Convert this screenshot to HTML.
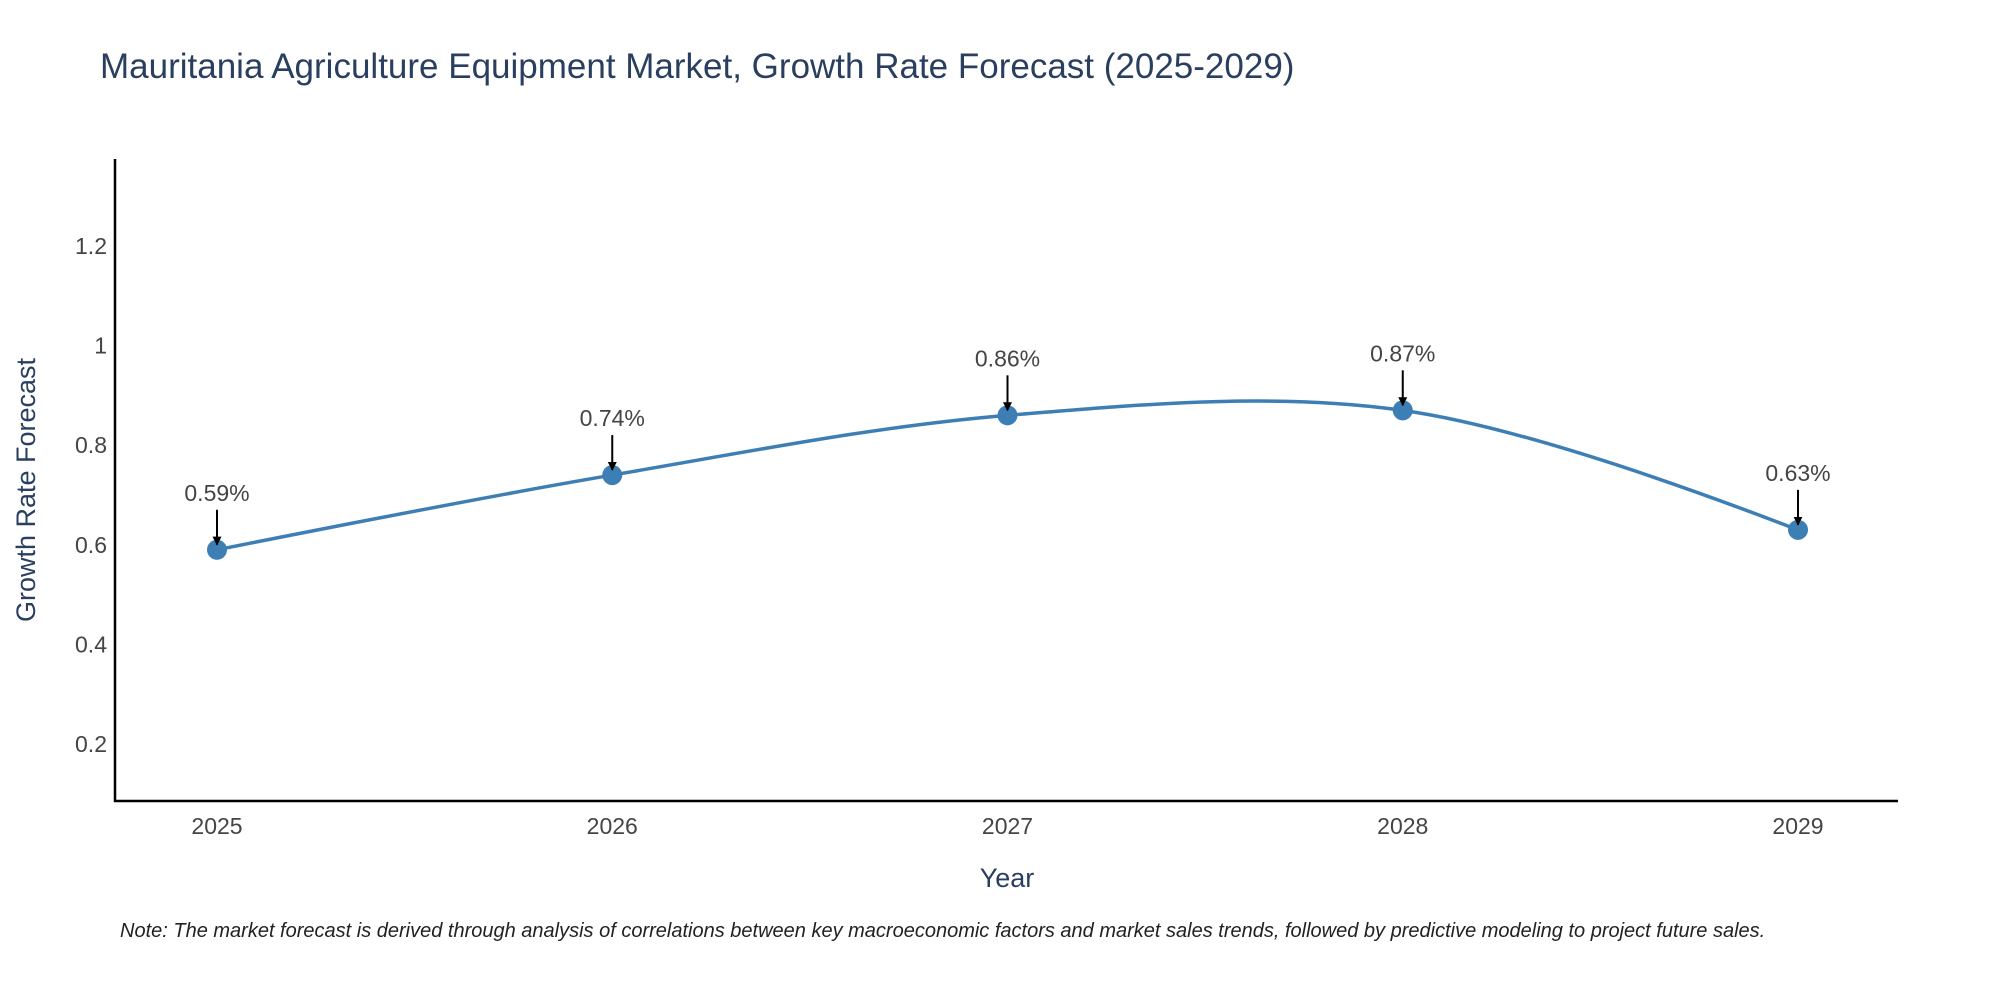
<!DOCTYPE html>
<html><head><meta charset="utf-8">
<style>
html,body{margin:0;padding:0;background:#fff;}
svg{display:block;font-family:"Liberation Sans",sans-serif;}
</style></head>
<body>
<svg id="chart" width="2000" height="1000" viewBox="0 0 2000 1000" xmlns="http://www.w3.org/2000/svg">
  <text x="100" y="78" font-size="35" fill="#2a3f5f">Mauritania Agriculture Equipment Market, Growth Rate Forecast (2025-2029)</text>
  <g id="grid"></g>
  <line x1="115" y1="159" x2="115" y2="802" stroke="#000" stroke-width="2.5"/>
  <line x1="114" y1="801" x2="1898" y2="801" stroke="#000" stroke-width="2.5"/>
  <text transform="translate(35,490) rotate(-90)" text-anchor="middle" font-size="27" fill="#2a3f5f">Growth Rate Forecast</text>
  <text x="1007" y="887" text-anchor="middle" font-size="27" fill="#2a3f5f">Year</text>
  <text x="120" y="937" font-size="20" font-style="italic" fill="#222">Note: The market forecast is derived through analysis of correlations between key macroeconomic factors and market sales trends, followed by predictive modeling to project future sales.</text>
  <defs>
    <marker id="ah" viewBox="0 0 10 10" refX="9" refY="5" markerWidth="4.5" markerHeight="5" orient="auto">
      <path d="M0,0 L10,5 L0,10 z" fill="#000"/>
    </marker>
  </defs>
</svg>
<script>
const years = [2025, 2026, 2027, 2028, 2029];
const rates = [0.59, 0.74, 0.86, 0.87, 0.63];
const labels = ["0.59%", "0.74%", "0.86%", "0.87%", "0.63%"];
const yTicks = [0.2, 0.4, 0.6, 0.8, 1, 1.2];
const yTickLabels = ["0.2", "0.4", "0.6", "0.8", "1", "1.2"];

const svg = document.getElementById('chart');
const NS = 'http://www.w3.org/2000/svg';
function xS(v){ return 217 + (v - 2025) * (1798 - 217) / 4; }
function yS(v){ return 744 - (v - 0.2) * (744 - 246) / 1.0; }
function mk(tag, attrs){ const e = document.createElementNS(NS, tag); for (const k in attrs) e.setAttribute(k, attrs[k]); svg.appendChild(e); return e; }

yTicks.forEach((t, i) => {
  const e = mk('text', {x: 107, y: yS(t) + 8, 'text-anchor': 'end', 'font-size': 23, fill: '#444'});
  
  
  e.textContent = yTickLabels[i];
});
years.forEach(y => {
  const e = mk('text', {x: xS(y), y: 834, 'text-anchor': 'middle', 'font-size': 23, fill: '#444'});
  
  
  e.textContent = String(y);
});

const pts = years.map((y, i) => [xS(y), yS(rates[i])]);
function tangent(p0, p1, p2, s){
  const d1x = p0[0]-p1[0], d1y = p0[1]-p1[1], d2x = p2[0]-p1[0], d2y = p2[1]-p1[1];
  const d1a = Math.pow(d1x*d1x + d1y*d1y, 0.25), d2a = Math.pow(d2x*d2x + d2y*d2y, 0.25);
  const nx = (d2a*d2a*d1x - d1a*d1a*d2x)*s, ny = (d2a*d2a*d1y - d1a*d1a*d2y)*s;
  const den1 = 3*d2a*(d1a+d2a), den2 = 3*d1a*(d1a+d2a);
  return [[p1[0]+nx/den1, p1[1]+ny/den1], [p1[0]-nx/den2, p1[1]-ny/den2]];
}
const tg = [];
for (let i = 1; i < pts.length - 1; i++) tg.push(tangent(pts[i-1], pts[i], pts[i+1], 1));
let d = 'M' + pts[0] + 'Q' + tg[0][0] + ' ' + pts[1];
for (let i = 2; i < pts.length - 1; i++) d += 'C' + tg[i-2][1] + ' ' + tg[i-1][0] + ' ' + pts[i];
d += 'Q' + tg[pts.length-3][1] + ' ' + pts[pts.length-1];
const line = mk('path', {d: d, fill: 'none', stroke: '#3d7fb5', 'stroke-width': 3.5});



pts.forEach((p, i) => {
  const c = mk('circle', {cx: p[0], cy: p[1], r: 10, fill: '#3d7fb5'});
  
  
  const a = mk('line', {x1: p[0], y1: p[1] - 40, x2: p[0], y2: p[1] - 5, stroke: '#000', 'stroke-width': 2, 'marker-end': 'url(#ah)'});
  
  
  const t = mk('text', {x: p[0], y: p[1] - 49, 'text-anchor': 'middle', 'font-size': 23, fill: '#444'});
  
  
  t.textContent = labels[i];
});
</script>
</body></html>
